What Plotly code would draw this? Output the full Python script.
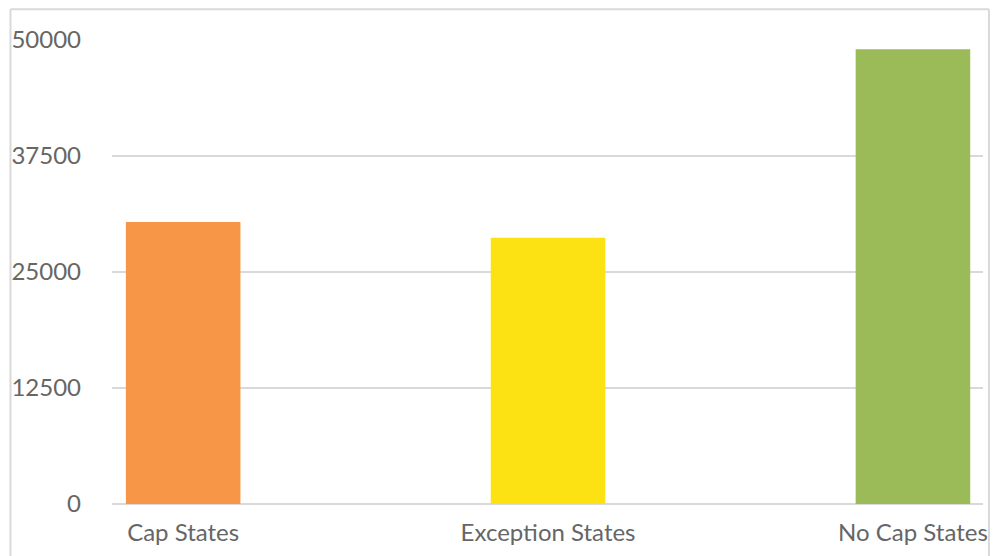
import plotly.graph_objects as go

categories = ["Cap States", "Exception States", "No Cap States"]
values = [30400, 28700, 49000]
colors = ["#F79646", "#FDE213", "#9BBB59"]
y_ticks = [0, 12500, 25000, 37500, 50000]
y_tick_labels = ["0", "12500", "25000", "37500", "50000"]

W, H = 997, 556
ml, mr, mt, mb = 112, 10, 40, 49
pw = W - ml - mr
ph = H - mt - mb

fig = go.Figure(
    go.Bar(
        x=categories,
        y=values,
        marker=dict(color=colors, line=dict(width=0)),
        width=0.314,
        hoverinfo="x+y",
    )
)

font_family = "Lato, 'Open Sans', sans-serif"
text_color = "#666666"
grid_color = "#D9D9D9"

fig.update_layout(
    width=W,
    height=H,
    margin=dict(l=ml, r=mr, t=mt, b=mb, pad=0),
    paper_bgcolor="white",
    plot_bgcolor="white",
    showlegend=False,
    font=dict(family=font_family, size=24, color=text_color),
    xaxis=dict(
        type="category",
        range=[-0.195, 2.192],
        showgrid=False,
        showline=False,
        zeroline=False,
        ticks="",
        ticklabelstandoff=12,
        tickfont=dict(size=24, color=text_color),
    ),
    yaxis=dict(
        range=[0, 50000],
        tickvals=y_ticks,
        ticktext=y_tick_labels,
        showgrid=True,
        gridcolor=grid_color,
        gridwidth=2,
        zeroline=True,
        zerolinecolor=grid_color,
        zerolinewidth=2,
        showline=False,
        ticks="",
        ticklabelstandoff=30,
        tickfont=dict(size=24, color=text_color),
    ),
)

# Outer frame around the chart
def px_x(x):
    return (x - ml) / pw

def px_y(y):
    return 1 - (y - mt) / ph

frame = dict(type="line", xref="paper", yref="paper",
             line=dict(color=grid_color, width=2), layer="above")
fig.add_shape(**frame, x0=px_x(10), x1=px_x(10), y0=px_y(9), y1=px_y(600))
fig.add_shape(**frame, x0=px_x(993), x1=px_x(993), y0=px_y(9), y1=px_y(600))
fig.add_shape(**frame, x0=px_x(10), x1=px_x(993), y0=px_y(9), y1=px_y(9))

fig.write_html("out.html")
